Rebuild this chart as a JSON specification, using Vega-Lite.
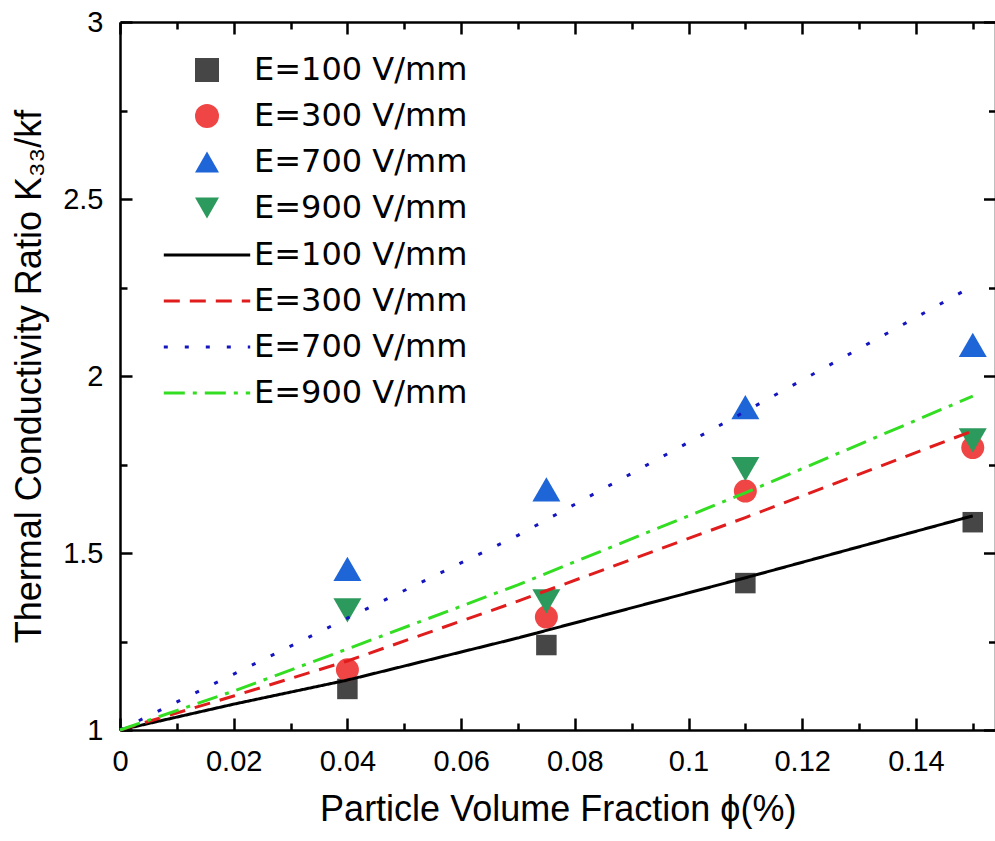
{
  "$schema": "https://vega.github.io/schema/vega-lite/v6.json",
  "width": 875.5,
  "height": 708,
  "autosize": "none",
  "padding": {"left": 120, "top": 22, "right": 0, "bottom": 111},
  "background": "white",
  "config": {
    "view": {"stroke": null},
    "font": "Liberation Sans",
    "axis": {
      "grid": false,
      "domainColor": "black",
      "domainWidth": 2.5,
      "tickColor": "black",
      "tickWidth": 2.5,
      "labelFont": "Liberation Sans",
      "labelFontSize": 29,
      "labelColor": "black",
      "titleFont": "Liberation Sans",
      "titleFontSize": 36,
      "titleFontWeight": "normal",
      "titleColor": "black",
      "labelOverlap": false,
      "labelFlush": false
    }
  },
  "datasets": {
    "points": [
      {"phi": 0.04, "ratio": 1.116, "series": "E=100 V/mm", "E": 100},
      {"phi": 0.075, "ratio": 1.240, "series": "E=100 V/mm", "E": 100},
      {"phi": 0.11, "ratio": 1.415, "series": "E=100 V/mm", "E": 100},
      {"phi": 0.15, "ratio": 1.587, "series": "E=100 V/mm", "E": 100},
      {"phi": 0.04, "ratio": 1.170, "series": "E=300 V/mm", "E": 300},
      {"phi": 0.075, "ratio": 1.319, "series": "E=300 V/mm", "E": 300},
      {"phi": 0.11, "ratio": 1.675, "series": "E=300 V/mm", "E": 300},
      {"phi": 0.15, "ratio": 1.798, "series": "E=300 V/mm", "E": 300},
      {"phi": 0.04, "ratio": 1.455, "series": "E=700 V/mm", "E": 700},
      {"phi": 0.075, "ratio": 1.680, "series": "E=700 V/mm", "E": 700},
      {"phi": 0.11, "ratio": 1.912, "series": "E=700 V/mm", "E": 700},
      {"phi": 0.15, "ratio": 2.088, "series": "E=700 V/mm", "E": 700},
      {"phi": 0.04, "ratio": 1.338, "series": "E=900 V/mm", "E": 900},
      {"phi": 0.075, "ratio": 1.363, "series": "E=900 V/mm", "E": 900},
      {"phi": 0.11, "ratio": 1.737, "series": "E=900 V/mm", "E": 900},
      {"phi": 0.15, "ratio": 1.818, "series": "E=900 V/mm", "E": 900}
    ],
    "curves": [
      {"phi": 0, "ratio": 1, "series": "E=100 V/mm"},
      {"phi": 0.02, "ratio": 1.073, "series": "E=100 V/mm"},
      {"phi": 0.04, "ratio": 1.141, "series": "E=100 V/mm"},
      {"phi": 0.07, "ratio": 1.260, "series": "E=100 V/mm"},
      {"phi": 0.11, "ratio": 1.430, "series": "E=100 V/mm"},
      {"phi": 0.15, "ratio": 1.605, "series": "E=100 V/mm"},
      {"phi": 0, "ratio": 1, "series": "E=300 V/mm"},
      {"phi": 0.02, "ratio": 1.096, "series": "E=300 V/mm"},
      {"phi": 0.04, "ratio": 1.195, "series": "E=300 V/mm"},
      {"phi": 0.07, "ratio": 1.364, "series": "E=300 V/mm"},
      {"phi": 0.11, "ratio": 1.600, "series": "E=300 V/mm"},
      {"phi": 0.15, "ratio": 1.845, "series": "E=300 V/mm"},
      {"phi": 0, "ratio": 1, "series": "E=700 V/mm"},
      {"phi": 0.02, "ratio": 1.158, "series": "E=700 V/mm"},
      {"phi": 0.04, "ratio": 1.316, "series": "E=700 V/mm"},
      {"phi": 0.07, "ratio": 1.550, "series": "E=700 V/mm"},
      {"phi": 0.11, "ratio": 1.900, "series": "E=700 V/mm"},
      {"phi": 0.15, "ratio": 2.254, "series": "E=700 V/mm"},
      {"phi": 0, "ratio": 1, "series": "E=900 V/mm"},
      {"phi": 0.02, "ratio": 1.110, "series": "E=900 V/mm"},
      {"phi": 0.04, "ratio": 1.229, "series": "E=900 V/mm"},
      {"phi": 0.07, "ratio": 1.410, "series": "E=900 V/mm"},
      {"phi": 0.11, "ratio": 1.670, "series": "E=900 V/mm"},
      {"phi": 0.15, "ratio": 1.943, "series": "E=900 V/mm"}
    ]
  },
  "layer": [
    {
      "data": {"name": "points"},
      "mark": {"type": "point", "filled": true, "opacity": 1, "strokeWidth": 0},
      "encoding": {
        "x": {
          "field": "phi", "type": "quantitative",
          "scale": {"domain": [0, 0.154], "nice": false, "zero": false},
          "axis": {
            "orient": "bottom",
            "values": [0, 0.01, 0.02, 0.03, 0.04, 0.05, 0.06, 0.07, 0.08, 0.09, 0.1, 0.11, 0.12, 0.13, 0.14, 0.15],
            "format": ".2~f",
            "labelExpr": "round(datum.value*100) % 2 == 0 ? datum.label : ''",
            "tickSize": {"condition": {"test": "round(datum.value*100) % 2 == 0", "value": -12}, "value": -7},
            "labelPadding": 29,
            "title": "Particle Volume Fraction ϕ(%)",
            "titleY": 90,
            "titleBaseline": "alphabetic"
          }
        },
        "y": {
          "field": "ratio", "type": "quantitative",
          "scale": {"domain": [1, 3], "nice": false, "zero": false},
          "axis": {
            "orient": "left",
            "values": [1, 1.25, 1.5, 1.75, 2, 2.25, 2.5, 2.75, 3],
            "format": ".1~f",
            "labelExpr": "round(datum.value*4) % 2 == 0 ? datum.label : ''",
            "tickSize": {"condition": {"test": "round(datum.value*4) % 2 == 0", "value": -12}, "value": -7},
            "labelPadding": 29,
            "title": "Thermal Conductivity Ratio K₃₃/kf",
            "titleAngle": 270,
            "titleX": -80,
            "titleY": 354,
            "titleAlign": "center",
            "titleBaseline": "alphabetic"
          }
        },
        "color": {
          "field": "series", "type": "nominal",
          "scale": {"domain": ["E=100 V/mm", "E=300 V/mm", "E=700 V/mm", "E=900 V/mm"], "range": ["#464646", "#ef4545", "#1e65d8", "#2c9a5c"]},
          "legend": {
            "orient": "none", "legendX": 71, "legendY": 32, "title": null,
            "labelFont": "DejaVu Sans", "labelFontSize": 32, "labelColor": "black", "labelLimit": 0,
            "symbolSize": 576, "labelOffset": 31, "rowPadding": 14, "padding": 0,
            "symbolStrokeWidth": 0, "symbolOpacity": 1
          }
        },
        "shape": {
          "field": "series", "type": "nominal",
          "scale": {"domain": ["E=100 V/mm", "E=300 V/mm", "E=700 V/mm", "E=900 V/mm"], "range": ["square", "circle", "triangle-up", "triangle-down"]},
          "legend": {
            "orient": "none", "legendX": 71, "legendY": 32, "title": null,
            "labelFont": "DejaVu Sans", "labelFontSize": 32, "labelColor": "black", "labelLimit": 0,
            "symbolSize": 576, "labelOffset": 31, "rowPadding": 14, "padding": 0,
            "symbolStrokeWidth": 0, "symbolOpacity": 1
          }
        },
        "size": {
          "field": "E", "type": "quantitative",
          "scale": {"type": "threshold", "domain": [200, 500, 800], "range": [420, 529, 784, 784]},
          "legend": null
        }
      }
    },
    {
      "data": {"name": "curves"},
      "mark": {"type": "line", "strokeWidth": 3, "strokeCap": "butt"},
      "encoding": {
        "x": {
          "field": "phi", "type": "quantitative",
          "scale": {"domain": [0, 0.154], "nice": false, "zero": false},
          "axis": {
            "orient": "top",
            "values": [0, 0.01, 0.02, 0.03, 0.04, 0.05, 0.06, 0.07, 0.08, 0.09, 0.1, 0.11, 0.12, 0.13, 0.14, 0.15],
            "labels": false,
            "title": null,
            "tickSize": {"condition": {"test": "round(datum.value*100) % 2 == 0", "value": -12}, "value": -7}
          }
        },
        "y": {
          "field": "ratio", "type": "quantitative",
          "scale": {"domain": [1, 3], "nice": false, "zero": false},
          "axis": {
            "orient": "right",
            "values": [1, 1.25, 1.5, 1.75, 2, 2.25, 2.5, 2.75, 3],
            "labels": false,
            "title": null,
            "tickSize": {"condition": {"test": "round(datum.value*4) % 2 == 0", "value": -12}, "value": -7}
          }
        },
        "color": {
          "field": "series", "type": "nominal",
          "scale": {"domain": ["E=100 V/mm", "E=300 V/mm", "E=700 V/mm", "E=900 V/mm"], "range": ["#000000", "#e01c1c", "#1414c0", "#33dd22"]},
          "legend": {
            "orient": "none", "legendX": 71, "legendY": 217, "title": null,
            "labelFont": "DejaVu Sans", "labelFontSize": 32, "labelColor": "black", "labelLimit": 0,
            "symbolType": "M-3.6,0L3.6,0", "symbolSize": 576, "symbolStrokeWidth": 3,
            "labelOffset": 31, "rowPadding": 14, "padding": 0
          }
        },
        "strokeDash": {
          "field": "series", "type": "nominal",
          "scale": {"domain": ["E=100 V/mm", "E=300 V/mm", "E=700 V/mm", "E=900 V/mm"], "range": [[1, 0], [16, 10], [4, 17], [21, 8, 4, 8]]},
          "legend": {
            "orient": "none", "legendX": 71, "legendY": 217, "title": null,
            "labelFont": "DejaVu Sans", "labelFontSize": 32, "labelColor": "black", "labelLimit": 0,
            "symbolType": "M-3.6,0L3.6,0", "symbolSize": 576, "symbolStrokeWidth": 3,
            "labelOffset": 31, "rowPadding": 14, "padding": 0
          }
        }
      }
    }
  ],
  "resolve": {
    "scale": {"color": "independent", "shape": "independent", "strokeDash": "independent", "size": "independent"},
    "axis": {"x": "independent", "y": "independent"}
  }
}
